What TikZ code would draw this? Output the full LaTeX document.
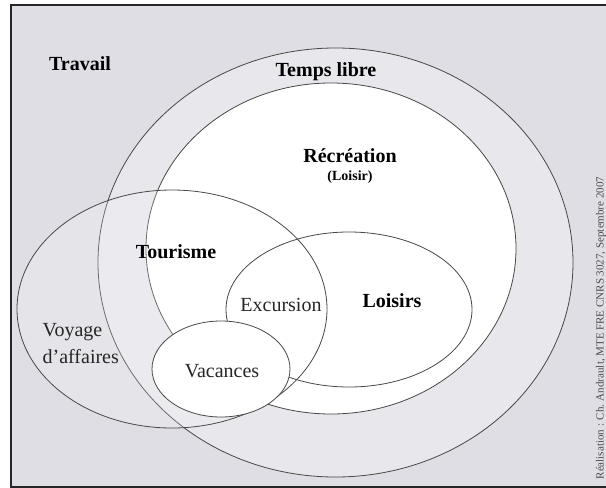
\documentclass[tikz,border=0pt]{standalone}
\usepackage{fontspec}
\setmainfont{Liberation Serif}
\usetikzlibrary{shapes.geometric,positioning}
\definecolor{frameGray}{RGB}{222,222,228}
\definecolor{lineGray}{RGB}{72,72,72}

\begin{document}
\begin{tikzpicture}[x=1pt, y=-1pt, semithick]
        \tikzset{
           zone/.style={
                        ellipse,
                        draw=lineGray,
                        line width=0.8pt,
                        inner sep=0pt
                       },
           headText/.style={
                        font=\fontsize{20}{24}\selectfont\bfseries,
                        text=black
                       },
           subText/.style={
                        font=\fontsize{14}{16}\selectfont\bfseries,
                        text=black
                       },
           plainText/.style={
                        font=\fontsize{20}{27}\selectfont,
                        text=black!85
                       },
           creditText/.style={
                        font=\fontsize{11}{13}\selectfont,
                        text=black!70
                       },
                 };
    %--------------------
        \useasboundingbox (0,0) rectangle (606,488);
        \path[fill=frameGray, draw=black!85, line width=1.6pt] (11,5) rectangle (620,487);
    %--------------------
        \node[zone, fill=white, fill opacity=0.3, minimum width=475pt, minimum height=429pt] (tempsLibre) at (335.5,262.5) {};
        \node[zone, fill=white, minimum width=370pt, minimum height=331pt]                  (recreation) at (331,248.5)   {};
        \node[zone, fill=white, fill opacity=0.2, minimum width=310pt, minimum height=238pt] (tourisme)   at (172,309)     {};
        \node[zone, minimum width=246pt, minimum height=155pt]                              (loisirs)    at (349,309.5)   {};
        \node[zone, fill=white, minimum width=138pt, minimum height=96pt]                   (vacances)   at (221,369)     {};
    %--------------------
        \node[headText]  (travailText)    at (80,64)   {Travail};
        \node[headText]  (tempsLibreText) at (326,72)  {Temps libre};
        \node[headText]  (recreationText) at (350,156) {Récréation};
        \node[subText]   (loisirText)     [below=0pt of recreationText] {(Loisir)};
        \node[headText]  (tourismeText)   at (176,252) {Tourisme};
        \node[headText]  (loisirsText)    at (392,301) {Loisirs};
        \node[plainText] (excursionText)  at (281,305) {Excursion};
        \node[plainText, align=left, anchor=west] (voyageText) at (39,344) {Voyage\\d’affaires};
        \node[plainText] (vacancesText)   at (222,371) {Vacances};
        \node[creditText, rotate=90] (creditNote) at (601,328) {Réalisation : Ch. Andrault, MTE FRE CNRS 3027, Septembre 2007};
    \end{tikzpicture}
\end{document}
